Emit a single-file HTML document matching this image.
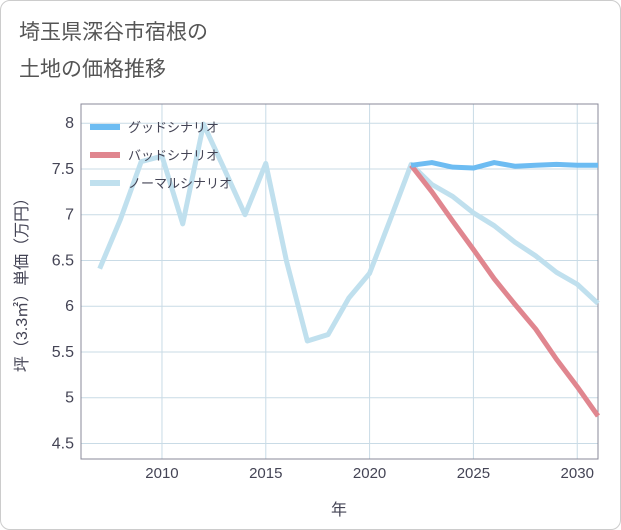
<!DOCTYPE html>
<html><head><meta charset="utf-8"><style>
body{margin:0;background:#fff;font-family:"Liberation Sans","Noto Sans CJK JP",sans-serif;}
#wrap{position:relative;width:619px;height:528px;border:1px solid #ccc;border-radius:10px;overflow:hidden;}
</style></head><body>
<div id="wrap">
<svg id="svg" width="619" height="528"></svg>
</div>
<script>
const years=[2007,2008,2009,2010,2011,2012,2013,2014,2015,2016,2017,2018,2019,2020,2021,2022,2023,2024,2025,2026,2027,2028,2029,2030,2031];
const normalVals=[6.41,6.95,7.58,7.64,6.9,7.99,7.5,7.0,7.56,6.49,5.62,5.69,6.09,6.36,6.95,7.55,7.33,7.2,7.02,6.88,6.7,6.55,6.37,6.24,6.03];
const futYears=[2022,2023,2024,2025,2026,2027,2028,2029,2030,2031];
const goodVals=[7.54,7.57,7.52,7.51,7.57,7.53,7.54,7.55,7.54,7.54];
const badVals=[7.54,7.25,6.93,6.62,6.3,6.02,5.75,5.42,5.12,4.8];
const xTicks=[2010,2015,2020,2025,2030];
const yTicks=[4.5,5,5.5,6,6.5,7,7.5,8];
const L=80,R=597,T=103,B=458;
const xMin=2006.1,xMax=2031,yMin=4.33,yMax=8.21;
const X=v=>L+(v-xMin)/(xMax-xMin)*(R-L);
const Y=v=>B-(v-yMin)/(yMax-yMin)*(B-T);
const s=document.getElementById('svg');const NS='http://www.w3.org/2000/svg';
function mk(t,a,p){const e=document.createElementNS(NS,t);for(const k in a)e.setAttribute(k,a[k]);(p||s).appendChild(e);return e;}
let e;
e=mk('text',{x:18,y:38,'font-size':21,fill:'#555'});e.textContent='埼玉県深谷市宿根の';


e=mk('text',{x:18,y:75,'font-size':21,fill:'#555'});e.textContent='土地の価格推移';


xTicks.forEach(t=>{e=mk('line',{x1:X(t),x2:X(t),y1:T,y2:B,stroke:'#c9dbe6','stroke-width':1});


e=mk('text',{x:X(t),y:477,'font-size':15,fill:'#445','text-anchor':'middle'});e.textContent=t;

});
yTicks.forEach(t=>{e=mk('line',{x1:L,x2:R,y1:Y(t),y2:Y(t),stroke:'#c9dbe6','stroke-width':1});


e=mk('text',{x:73,y:Y(t)+5,'font-size':16,fill:'#445','text-anchor':'end'});e.textContent=t;

});
e=mk('rect',{x:L,y:T,width:R-L,height:B-T,fill:'none',stroke:'#889','stroke-width':1});


function line(xs,ys,c,name){const d=xs.map((x,i)=>(i?'L':'M')+X(x)+' '+Y(ys[i])).join(' ');
e=mk('path',{d:d,fill:'none',stroke:c,'stroke-width':5,'stroke-linejoin':'round'});

}
line(years,normalVals,'#c0e0ee','normal-scenario-line');
line(futYears,badVals,'#e0868f','bad-scenario-line');
line(futYears,goodVals,'#6dbcf2','good-scenario-line');
const leg=[['グッドシナリオ','#6dbcf2',126],['バッドシナリオ','#e0868f',154],['ノーマルシナリオ','#c0e0ee',182]];
leg.forEach(l=>{e=mk('rect',{x:89,y:l[2]-3,width:30,height:6,fill:l[1]});


e=mk('text',{x:127,y:l[2]+5,'font-size':13,fill:'#445'});e.textContent=l[0];

});
e=mk('text',{x:338,y:514,'font-size':16,fill:'#445','text-anchor':'middle'});e.textContent='年';


e=mk('text',{x:0,y:0,'font-size':16,fill:'#445','text-anchor':'middle',transform:'translate(26,280) rotate(-90)'});e.textContent='坪（3.3㎡）単価（万円）';


</script>
</body></html>
